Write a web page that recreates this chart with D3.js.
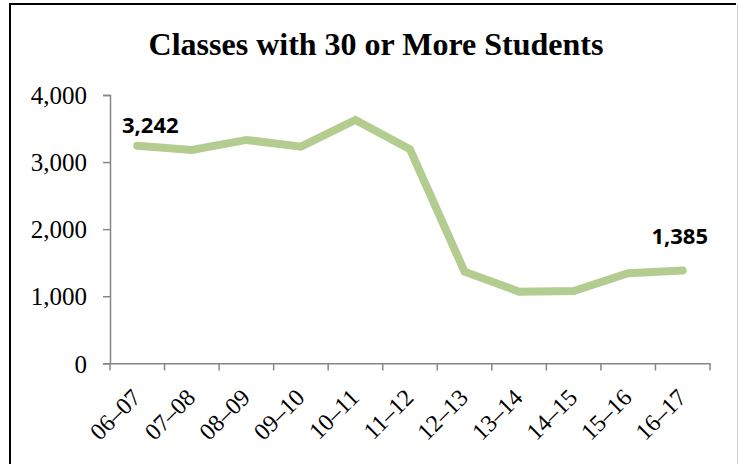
<!DOCTYPE html>
<html>
<head>
<meta charset="utf-8">
<script src="https://cdn.jsdelivr.net/npm/d3@7"></script>
<style>
html,body{margin:0;padding:0;background:#fff;}
svg{display:block;}
</style>
</head>
<body>
<svg id="chart" width="739" height="464"></svg>
<script>
const categories = ["06–07","07–08","08–09","09–10","10–11","11–12","12–13","13–14","14–15","15–16","16–17"];
const values = [3242, 3180, 3330, 3230, 3628, 3191, 1366, 1068, 1078, 1342, 1385];
const yTicks = [0, 1000, 2000, 3000, 4000];
const title = "Classes with 30 or More Students";
const labelIdx = [0, 10];

const svg = d3.select("#chart");

// frame
svg.append("line").attr("x1",10).attr("x2",10).attr("y1",3).attr("y2",464).attr("stroke","#000").attr("stroke-width",2);
svg.append("line").attr("x1",9).attr("x2",736).attr("y1",4).attr("y2",4).attr("stroke","#000").attr("stroke-width",2);
svg.append("line").attr("x1",737.5).attr("x2",737.5).attr("y1",4).attr("y2",464).attr("stroke","#d0d0d0").attr("stroke-width",1);

svg.append("text").attr("x",376).attr("y",55).attr("text-anchor","middle")
  .attr("font-family","'Liberation Serif','Times New Roman',serif").attr("font-weight","bold")
  .attr("font-size",32).attr("fill","#000").text(title);

const x = d3.scalePoint().domain(categories).range([110,710]).padding(0.5);
const xBand = d3.scaleBand().domain(categories).range([110,710]);
const y = d3.scaleLinear().domain([0,4000]).range([363.3,95]);

const axisColor = "#868686";

// y axis
const yAxis = svg.append("g").attr("transform","translate(110,0)")
  .call(d3.axisLeft(y).tickValues(yTicks).tickSize(7).tickPadding(16).tickFormat(d3.format(",")));
yAxis.select(".domain").attr("stroke",axisColor).attr("stroke-width",1.5);
yAxis.selectAll(".tick line").attr("stroke",axisColor).attr("stroke-width",1.5);
yAxis.selectAll(".tick text").attr("font-family","'Liberation Serif','Times New Roman',serif")
  .attr("font-size",25).attr("fill","#000").attr("dy","0.35em");

// x axis
const xAxis = svg.append("g").attr("transform","translate(0,363.3)")
  .call(d3.axisBottom(xBand).tickValues([]).tickSizeOuter(0));
xAxis.select(".domain").attr("stroke",axisColor).attr("stroke-width",1.5);
const edges = categories.map((c)=>xBand(c)).concat([710]);
svg.append("g").selectAll("line").data(edges).join("line")
  .attr("x1",d=>d).attr("x2",d=>d).attr("y1",363.3).attr("y2",370.5)
  .attr("stroke",axisColor).attr("stroke-width",1.5);

svg.append("g").selectAll("text").data(categories).join("text")
  .attr("transform",d=>`translate(${x(d)+5},${399}) rotate(-45)`)
  .attr("text-anchor","end")
  .attr("font-family","'Liberation Serif','Times New Roman',serif")
  .attr("font-size",24).attr("fill","#000").text(d=>d);

// line
const line = d3.line().x((d,i)=>x(categories[i])).y(d=>y(d));
svg.append("path").datum(values).attr("d",line).attr("fill","none")
  .attr("stroke","#b3cc8f").attr("stroke-width",8).attr("stroke-linecap","round").attr("stroke-linejoin","miter");

// data labels
const offsets = {0:[13,-13], 10:[-3,-26]};
svg.append("g").selectAll("text").data(labelIdx).join("text")
  .attr("x",i=>x(categories[i])+offsets[i][0])
  .attr("y",i=>y(values[i])+offsets[i][1])
  .attr("text-anchor","middle")
  .attr("font-family","'Open Sans',sans-serif").attr("font-weight","bold")
  .attr("font-size",22).attr("fill","#000")
  .text(i=>d3.format(",")(values[i]));
</script>
</body>
</html>
